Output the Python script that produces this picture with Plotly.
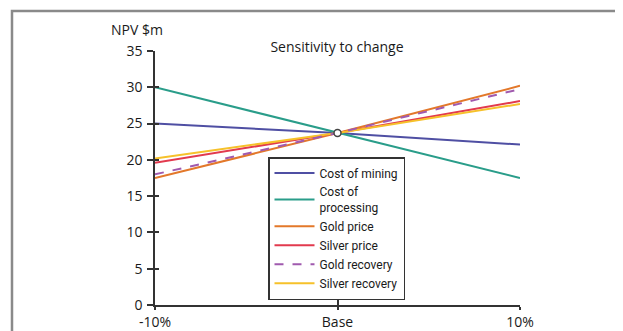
import plotly.graph_objects as go

# ---- data ----
x_vals = [-10, 0, 10]
x_labels = ["-10%", "Base", "10%"]
y_ticks = [0, 5, 10, 15, 20, 25, 30, 35]

cost_of_mining = [25.0, 23.7, 22.1]
cost_of_processing = [30.0, 23.7, 17.5]
gold_price = [17.5, 23.7, 30.2]
silver_price = [19.6, 23.7, 28.1]
gold_recovery = [18.0, 23.7, 29.75]
silver_recovery = [20.2, 23.7, 27.7]
base_value = [23.7]

series = [
    ("Cost of mining", cost_of_mining, "#4f4fa3", "solid", 1),
    ("Cost of<br>processing", cost_of_processing, "#2a9d8a", "solid", 2),
    ("Gold price", gold_price, "#e3782a", "solid", 3),
    ("Silver price", silver_price, "#e23a4e", "solid", 4),
    ("Silver recovery", silver_recovery, "#f6c12a", "solid", 6),
    ("Gold recovery", gold_recovery, "#a05aae", "dash", 5),
]

LEG_FONT = "Roboto, Liberation Sans, sans-serif"
MAIN_FONT = "Open Sans, Noto Sans, DejaVu Sans, sans-serif"

# page has an 8px body margin: figure coordinates = screen - 8
OFF = 8
W, H = 623 - OFF, 331 - OFF
PL, PR, PT, PB = 155 - OFF, 520 - OFF, 51 - OFF, 305 - OFF  # plot box (figure px)
PW, PH = PR - PL, PB - PT


def px(xs):
    return (xs - OFF - PL) / PW


def py(ys):
    return (PB - (ys - OFF)) / PH


fig = go.Figure()
for name, vals, color, dash, rank in series:
    fig.add_trace(go.Scatter(
        x=x_vals, y=vals, mode="lines", name=name,
        line=dict(color=color, width=2, dash=dash),
        legendrank=rank,
    ))

fig.add_trace(go.Scatter(
    x=[0], y=base_value, mode="markers", showlegend=False,
    marker=dict(color="white", size=7, line=dict(color="#444444", width=1.5)),
))

# invisible trace on overlay axes (for crossing tick marks)
fig.add_trace(go.Scatter(x=x_vals, y=[None]*3, xaxis="x2", yaxis="y2",
                         showlegend=False, hoverinfo="skip"))

fig.update_layout(
    width=W, height=H,
    margin=dict(l=PL, r=W - PR, t=PT, b=H - PB, autoexpand=False),
    paper_bgcolor="white", plot_bgcolor="white",
    font=dict(family=MAIN_FONT, size=14, color="#1a1a1a"),
    title=dict(text="Sensitivity to change", x=px(337), xref="paper",
               y=1 - (47 - OFF) / H, yanchor="middle", xanchor="center",
               font=dict(family=MAIN_FONT, size=14, color="#1a1a1a")),
    xaxis=dict(range=[-10, 10], tickvals=x_vals, ticktext=x_labels,
               showgrid=False, zeroline=False, showline=True,
               linecolor="#333333", linewidth=1.5, automargin=False,
               ticks="outside", ticklen=3, tickwidth=1.5, tickcolor="#333333",
               tickfont=dict(size=14), fixedrange=True),
    yaxis=dict(range=[0, 35], tickvals=y_ticks, automargin=False,
               showgrid=False, zeroline=False, showline=True,
               linecolor="#333333", linewidth=1.5,
               ticks="outside", ticklen=6, tickwidth=1.5, tickcolor="#333333",
               tickfont=dict(size=14), ticklabelstandoff=2),
    xaxis2=dict(range=[-10, 10], tickvals=[0, 10], overlaying="x", anchor="y",
                side="bottom", ticks="inside", ticklen=6, tickwidth=1.5,
                tickcolor="#333333", showticklabels=False, showgrid=False,
                zeroline=False, showline=False, automargin=False),
    yaxis2=dict(range=[0, 35], tickvals=y_ticks, overlaying="y", anchor="x",
                side="left", ticks="inside", ticklen=4, tickwidth=1.5,
                tickcolor="#333333", showticklabels=False, showgrid=False,
                zeroline=False, showline=False, automargin=False),
    legend=dict(x=px(268), y=py(157), xanchor="left",
                yanchor="top", bgcolor="white", bordercolor="#333333",
                borderwidth=1.5, font=dict(family=LEG_FONT, size=12, color="#1a1a1a"),
                tracegroupgap=0, itemwidth=40, valign="middle"),
    showlegend=True,
    annotations=[dict(text="NPV $m", x=px(137), y=py(30),
                      xref="paper", yref="paper", showarrow=False,
                      xanchor="center", yanchor="middle",
                      font=dict(family=MAIN_FONT, size=14, color="#1a1a1a"))],
    shapes=[dict(type="path", xref="paper", yref="paper",
                 path="M %f,%f L %f,%f L %f,%f" % (
                     px(12), py(345), px(12), py(11), px(640), py(11)),
                 line=dict(color="#8a8a8a", width=2.5), layer="below")],
)

fig.write_html("out.html")
